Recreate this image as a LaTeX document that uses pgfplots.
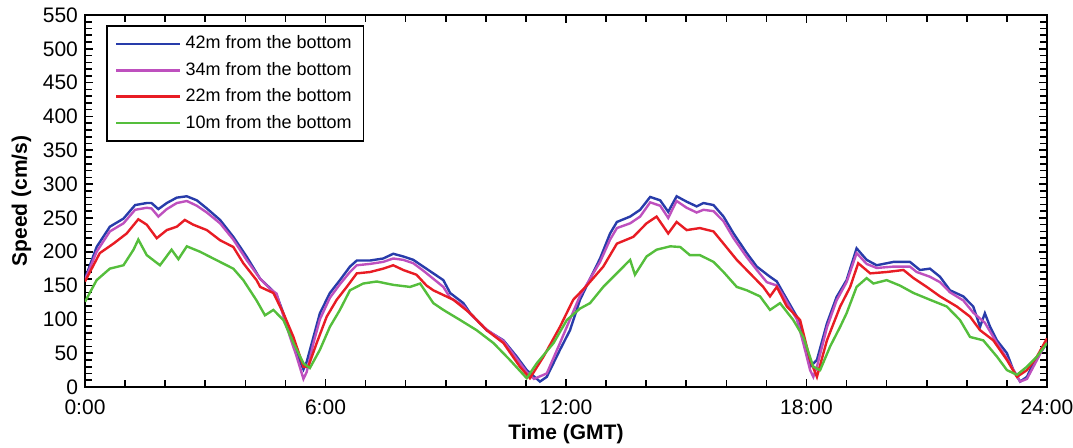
\documentclass[border=0pt]{standalone}
\usepackage{pgfplots}
\pgfplotsset{compat=1.18}
\usepackage{fontspec}
\setmainfont{Liberation Sans}
\definecolor{cblue}{RGB}{40,60,170}
\definecolor{cpurple}{RGB}{190,80,190}
\definecolor{cred}{RGB}{232,28,36}
\definecolor{cgreen}{RGB}{85,190,60}
\begin{document}
\begin{tikzpicture}
\begin{axis}[
  at={(0,0)}, anchor=south west,
  scale only axis, width=481pt, height=186pt,
  xmin=0, xmax=24, ymin=0, ymax=550,
  xtick={0,6,12,18,24},
  xticklabels={0:00,6:00,12:00,18:00,24:00},
  minor xtick={0,1,...,24},
  ytick={0,50,...,550},
  minor ytick={0,10,...,550},
  tick pos=both, tick align=inside,
  major tick length=4pt, minor tick length=3.5pt,
  every tick/.style={black, line width=0.8pt},
  axis line style={line width=0.9pt},
  ticklabel style={font=\fontsize{10.5}{12}\selectfont},
  xticklabel style={yshift=-3pt},
  /pgf/number format/assume math mode=true,
  xlabel={\bfseries Time (GMT)},
  ylabel={\bfseries Speed (cm/s)},
  label style={font=\fontsize{10.5}{12}\selectfont\bfseries},
  xlabel style={yshift=2pt},
  ylabel style={yshift=-1pt},
  legend style={at={(0.022,0.973)}, anchor=north west, draw=black, line width=0.8pt,
    font=\fontsize{9}{11}\selectfont, row sep=1.2pt, inner xsep=4pt, inner ysep=3pt},
  legend cell align=left,
  legend image code/.code={\draw[#1, line width=1.3pt] (0pt,0pt) -- (32pt,0pt);},
  every axis plot/.append style={line width=1.2pt},
]
\addplot[cblue] coordinates {
(0,160) (0.29,207) (0.62,237) (0.96,249) (1.25,269) (1.54,272) (1.66,272) (1.83,263) (2.04,272) (2.29,280) (2.54,282) (2.79,276) (3.04,264) (3.37,247) (3.70,222) (4.03,193) (4.37,160) (4.62,146) (4.78,136) (4.95,109) (5.11,79) (5.28,50) (5.45,26) (5.53,37) (5.70,74) (5.86,109) (6.11,139) (6.36,158) (6.61,178) (6.78,187) (7.11,187) (7.44,190) (7.69,197) (7.94,193) (8.19,188) (8.44,178) (8.69,168) (8.94,158) (9.11,139) (9.44,124) (9.61,109) (10.02,84) (10.44,69) (10.77,45) (11.02,25) (11.35,8) (11.52,15) (11.85,55) (12.10,84) (12.35,129) (12.60,160) (12.85,190) (13.10,227) (13.27,244) (13.60,252) (13.85,262) (14.10,281) (14.35,276) (14.55,259) (14.76,282) (15.01,274) (15.26,267) (15.43,272) (15.68,269) (15.93,252) (16.18,227) (16.51,198) (16.76,178) (17.09,163) (17.26,156) (17.42,139) (17.76,104) (17.92,69) (18.09,30) (18.26,40) (18.51,94) (18.75,133) (19.0,158) (19.25,205) (19.50,188) (19.75,180) (20.17,185) (20.58,185) (20.83,173) (21.08,175) (21.33,163) (21.58,143) (21.91,134) (22.16,119) (22.33,89) (22.45,109) (22.58,89) (22.75,69) (23.00,50) (23.16,25) (23.33,8) (23.50,15) (23.66,35) (23.83,50) (24.0,65)
};
\addlegendentry{42m from the bottom}
\addplot[cpurple] coordinates {
(0,158) (0.29,200) (0.62,230) (0.96,242) (1.25,262) (1.54,265) (1.66,264) (1.83,252) (2.04,263) (2.29,272) (2.54,275) (2.79,268) (3.04,258) (3.37,242) (3.70,218) (4.03,188) (4.37,160) (4.62,145) (4.78,138) (4.95,105) (5.11,75) (5.28,45) (5.45,12) (5.53,22) (5.70,65) (5.86,100) (6.11,132) (6.36,152) (6.61,170) (6.78,180) (7.11,182) (7.44,185) (7.69,190) (7.94,188) (8.19,183) (8.44,172) (8.69,160) (8.94,148) (9.11,132) (9.44,120) (9.61,108) (10.02,85) (10.44,68) (10.77,42) (11.02,22) (11.20,12) (11.52,20) (11.85,65) (12.10,100) (12.35,135) (12.60,160) (12.85,185) (13.10,218) (13.27,235) (13.60,242) (13.85,252) (14.10,273) (14.35,268) (14.55,250) (14.76,275) (15.01,265) (15.26,258) (15.43,262) (15.68,260) (15.93,245) (16.18,220) (16.51,192) (16.76,173) (17.01,155) (17.26,150) (17.42,135) (17.76,100) (17.92,65) (18.09,25) (18.17,15) (18.26,30) (18.51,88) (18.75,128) (19.0,155) (19.25,198) (19.50,182) (19.75,176) (20.17,178) (20.58,178) (20.75,170) (21.08,163) (21.33,155) (21.58,140) (21.91,128) (22.16,110) (22.45,95) (22.75,65) (23.0,42) (23.33,8) (23.50,12) (23.75,40) (24,68)
};
\addlegendentry{34m from the bottom}
\addplot[cred] coordinates {
(0,156) (0.37,198) (0.71,212) (1.04,227) (1.33,248) (1.54,240) (1.79,220) (2.04,232) (2.29,237) (2.49,247) (2.70,240) (3.04,232) (3.37,217) (3.70,207) (3.95,183) (4.28,158) (4.37,148) (4.70,139) (4.95,109) (5.20,74) (5.45,30) (5.57,30) (5.78,65) (6.03,104) (6.28,129) (6.53,148) (6.78,168) (7.11,170) (7.44,175) (7.69,180) (7.94,173) (8.27,166) (8.52,150) (8.69,143) (9.19,129) (9.61,109) (10.02,84) (10.44,65) (10.85,30) (11.10,13) (11.44,45) (11.85,89) (12.18,129) (12.52,150) (12.93,178) (13.27,212) (13.68,222) (14.01,242) (14.26,252) (14.55,227) (14.76,244) (15.01,232) (15.34,235) (15.68,230) (15.93,212) (16.26,188) (16.59,168) (16.92,148) (17.09,134) (17.26,148) (17.51,119) (17.84,99) (18.09,40) (18.26,15) (18.51,69) (18.84,119) (19.09,148) (19.29,183) (19.59,168) (20.00,170) (20.42,173) (20.67,161) (21.0,148) (21.33,134) (21.75,119) (22.08,104) (22.33,84) (22.66,69) (23.0,40) (23.25,15) (23.50,25) (23.75,45) (24,72)
};
\addlegendentry{22m from the bottom}
\addplot[cgreen] coordinates {
(0,126) (0.29,158) (0.62,175) (0.96,180) (1.21,203) (1.33,218) (1.54,195) (1.87,180) (2.16,203) (2.33,189) (2.54,208) (2.87,200) (3.20,190) (3.70,175) (3.95,158) (4.28,128) (4.49,106) (4.70,114) (4.95,99) (5.20,65) (5.45,35) (5.61,28) (5.86,55) (6.11,89) (6.36,114) (6.61,143) (6.94,153) (7.28,156) (7.69,151) (8.11,148) (8.36,153) (8.52,139) (8.69,124) (8.94,114) (9.36,99) (9.77,84) (10.19,65) (10.60,40) (11.02,13) (11.27,35) (11.69,65) (12.02,99) (12.35,116) (12.60,124) (12.93,148) (13.35,173) (13.60,188) (13.72,166) (14.01,193) (14.26,203) (14.60,208) (14.85,207) (15.09,195) (15.34,195) (15.68,185) (15.93,170) (16.26,148) (16.51,143) (16.84,134) (17.09,114) (17.34,124) (17.67,99) (17.92,74) (18.17,30) (18.34,25) (18.59,60) (18.84,89) (19.00,109) (19.25,148) (19.50,161) (19.67,153) (20.0,158) (20.33,150) (20.67,139) (21.08,129) (21.50,119) (21.83,99) (22.08,74) (22.41,69) (22.75,45) (23.0,25) (23.25,18) (23.50,30) (23.75,45) (24,65)
};
\addlegendentry{10m from the bottom}
\end{axis}
\pgfresetboundingbox
\useasboundingbox (-42.5pt,-30pt) rectangle (494pt,193.5pt);
\end{tikzpicture}
\end{document}
